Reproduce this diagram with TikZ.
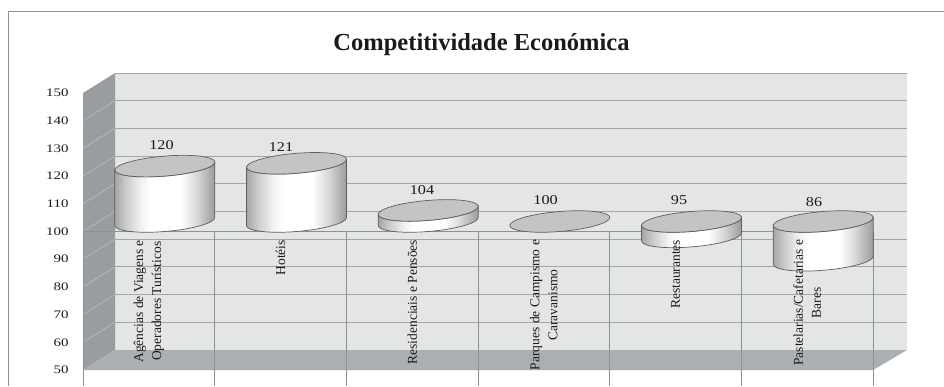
\documentclass[tikz,border=0pt]{standalone}
\usepackage{fontspec}
\setmainfont{Liberation Serif}
\newfontfamily\ticknumfont[FakeStretch=1.3]{Liberation Serif}
\newfontfamily\valfont[FakeStretch=1.2]{Liberation Serif}
\definecolor{wallback}{HTML}{E4E5E5}
\definecolor{wallleft}{HTML}{989DA0}
\definecolor{floorc}{HTML}{ABAFB2}
\definecolor{gridc}{HTML}{A3A6A8}
\definecolor{gridleft}{HTML}{B4B8BA}
\definecolor{framec}{HTML}{8F9393}
\definecolor{divc}{HTML}{8E9194}
\definecolor{cylA}{HTML}{A5A5A5}
\definecolor{cylB}{HTML}{C8C8C8}
\definecolor{cylC}{HTML}{F2F2F2}
\definecolor{cylD}{HTML}{D8D8D8}
\definecolor{cylE}{HTML}{AFAFAF}
\definecolor{cylF}{HTML}{9C9C9C}
\definecolor{cyltop}{HTML}{C4C4C4}
\definecolor{cyledge}{HTML}{5E5E5E}
\definecolor{txtc}{HTML}{1A1A1A}
\pgfdeclarehorizontalshading{cylshade}{100bp}{color(0bp)=(cylA); color(25bp)=(cylA); color(30bp)=(cylB); color(38bp)=(cylC); color(43bp)=(white); color(58bp)=(white); color(66bp)=(cylD); color(72bp)=(cylE); color(75bp)=(cylF); color(100bp)=(cylF)}
\tikzset{
  cylside/.style={shading=cylshade, draw=cyledge, line width=0.7pt},
  cyltopface/.style={fill=cyltop, draw=cyledge, line width=0.7pt},
  gridline/.style={gridc, line width=0.9pt},
  leftgrid/.style={gridleft, line width=0.8pt},
  divline/.style={divc, line width=0.8pt},
  ticklabel/.style={anchor=east, text=txtc, font=\ticknumfont\fontsize{11.5}{13}\selectfont},
  vallabel/.style={anchor=base, text=txtc, font=\valfont\fontsize{13.5}{15}\selectfont},
  catlabel/.style={rotate=90, anchor=east, align=center, text=txtc, font=\fontsize{13.5}{18}\selectfont},
}
\newcommand\drawcyl[3]{%
  \begin{scope}[shift={(#1,0)}, yslant=0.08]
    \shade[cylside] (-50,#2) -- (-50,#3) arc[start angle=180, end angle=0, x radius=50, y radius=10]
       -- (50,#2) arc[start angle=0, end angle=180, x radius=50, y radius=10] -- cycle;
    \filldraw[cyltopface] (0,#2) ellipse[x radius=50, y radius=10];
  \end{scope}}
\begin{document}
\begin{tikzpicture}[x=1pt,y=-1pt, every node/.style={inner sep=0pt, outer sep=0pt}]
\useasboundingbox (0,0) rectangle (944,386);
\fill[white] (0,0) rectangle (944,386);
% outer frame
\draw[framec, line width=1pt] (8,386) -- (8,11.5) -- (944,11.5);
% title
\node[anchor=base, text=txtc, font=\bfseries\fontsize{24.5}{28}\selectfont] (title) at (481.5,50) {Competitividade Económica};
% back wall
\fill[wallback] (115,73) rectangle (907,350);
\foreach \v in {60,70,...,150} \draw[gridline] (115,{350-(\v-50)*2.77}) -- (907,{350-(\v-50)*2.77});
% left wall
\fill[wallleft] (83,93) -- (115,73) -- (115,350) -- (83,370) -- cycle;
\foreach \v in {60,70,...,140} \draw[leftgrid] (83,{370-(\v-50)*2.77}) -- (115,{350-(\v-50)*2.77});
% floor
\fill[floorc] (83,370) -- (873,370) -- (907,350) -- (115,350) -- cycle;
% axis line at 100 and category dividers
\draw[divline] (83,231.5) -- (873,231.5);
\foreach \i in {0,...,6} \draw[divline] ({83+\i*131.67},231.5) -- ({83+\i*131.67},386);
% tick labels
\foreach \v in {50,60,...,150} \node[ticklabel] (t\v) at (68.5,{370-(\v-50)*2.77}) {\v};
% cylinders
\drawcyl{164.8}{166.1}{221.5}
\drawcyl{296.5}{163.3}{221.5}
\drawcyl{428.2}{210.4}{221.5}
\begin{scope}[shift={(559.8,0)}, yslant=0.08]
  \filldraw[cyltopface] (0,221.5) ellipse[x radius=50, y radius=10];
\end{scope}
\drawcyl{691.5}{221.5}{236.9}
\drawcyl{823.2}{221.5}{260.3}
% value labels
\node[vallabel] (v1) at (161.5,149.3) {120};
\node[vallabel] (v2) at (281,151.5) {121};
\node[vallabel] (v3) at (422,194.3) {104};
\node[vallabel] (v4) at (545.6,204.3) {100};
\node[vallabel] (v5) at (679,204) {95};
\node[vallabel] (v6) at (814,206.7) {86};
% category labels
\node[catlabel] (c1) at (148.8,240) {Agências de Viagens e\\Operadores Turísticos};
\node[catlabel] (c2) at (280.5,240) {Hotéis};
\node[catlabel] (c3) at (412.2,240) {Residenciais e Pensões};
\node[catlabel] (c4) at (543.8,240) {Parques de Campismo e\\Caravanismo};
\node[catlabel] (c5) at (675.5,240) {Restaurantes};
\node[catlabel] (c6) at (807.2,240) {Pastelarias/Cafetarias e\\Bares};
\end{tikzpicture}
\end{document}
